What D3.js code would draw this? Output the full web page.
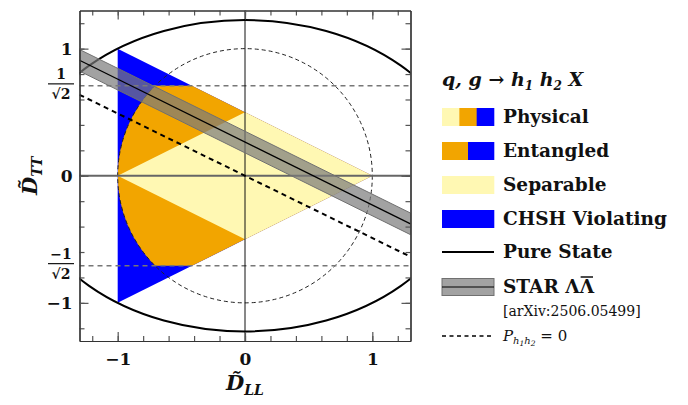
<!DOCTYPE html>
<html>
<head>
<meta charset="utf-8">
<script src="https://cdnjs.cloudflare.com/ajax/libs/d3/7.8.5/d3.min.js"></script>
<style>
  body { margin: 0; background: #fff; }
  text { font-family: "DejaVu Serif", serif; }
</style>
</head>
<body>
<script>
// region vertices in (D_LL, D_TT)
var physicalTriangle = [[-1, 1], [-1, -1], [1, 0]];
var separableRegion = [[-1, 0], [0, 0.5], [1, 0], [0, -0.5]];
var chshRadius = 1;
var chshBound = 1 / Math.SQRT2;
var pureStateAxes = [Math.sqrt(3), Math.sqrt(1.5)];
// STAR band: lines D_TT = intercept + slope * D_LL
var starSlope = -0.495;
var starIntercepts = [0.18, 0.265, 0.35];
var pZeroLine = [[-1.3, 0.637], [1.3, -0.637]];
var minorTicks = d3.range(-12, 13, 2).map(d => d / 10);
var majorTicks = [-1, 0, 1];

var colours = { yellow: '#fff8b3', orange: '#f2a500', blue: '#0000ff' };

var svg = d3.select("body").append("svg")
    .attr("width", 688)
    .attr("height", 405);

var x = d3.scaleLinear().domain([-1.3, 1.3]).range([79.5, 410.5]);
var y = d3.scaleLinear().domain([-1.3, 1.3]).range([341, 10.5]);

var defs = svg.append('defs');
defs.append('clipPath').attr('id', 'plotClip')
    .append('rect')
    .attr('x', x(-1.3)).attr('y', y(1.3))
    .attr('width', x(1.3) - x(-1.3)).attr('height', y(-1.3) - y(1.3));
defs.append('clipPath').attr('id', 'circClip')
    .append('ellipse')
    .attr('cx', x(0)).attr('cy', y(0))
    .attr('rx', x(chshRadius) - x(0)).attr('ry', y(0) - y(chshRadius));
defs.append('clipPath').attr('id', 'bandClip')
    .append('rect')
    .attr('x', x(-1.3)).attr('y', y(chshBound))
    .attr('width', x(1.3) - x(-1.3)).attr('height', y(-chshBound) - y(chshBound));

var line = d3.line().x(d => x(d[0])).y(d => y(d[1]));

var plot = svg.append('g').attr('clip-path', 'url(#plotClip)');

// CHSH violating (whole physical triangle in blue underneath)
plot.append('path')
    .attr('d', line(physicalTriangle) + 'Z')
    .attr('fill', colours.blue);

// entangled, not violating
plot.append('g').attr('clip-path', 'url(#circClip)')
    .append('path')
    .attr('clip-path', 'url(#bandClip)')
    .attr('d', line(physicalTriangle) + 'Z')
    .attr('fill', colours.orange);

// separable
plot.append('path')
    .attr('d', line(separableRegion) + 'Z')
    .attr('fill', colours.yellow);

// dashed unit circle
plot.append('ellipse')
    .attr('cx', x(0)).attr('cy', y(0))
    .attr('rx', x(chshRadius) - x(0)).attr('ry', y(0) - y(chshRadius))
    .attr('fill', 'none')
    .attr('stroke', '#222')
    .attr('stroke-width', 1)
    .attr('stroke-dasharray', '4,3');

// 1/sqrt2 lines
plot.selectAll('line.bound')
    .data([chshBound, -chshBound])
    .enter()
    .append('line')
    .attr('class', 'bound')
    .attr('x1', x(-1.3)).attr('x2', x(1.3))
    .attr('y1', d => y(d)).attr('y2', d => y(d))
    .attr('stroke', '#777')
    .attr('stroke-width', 1.5)
    .attr('stroke-dasharray', '5,4');

// zero lines
plot.append('line')
    .attr('x1', x(-1.3)).attr('x2', x(1.3))
    .attr('y1', y(0)).attr('y2', y(0))
    .attr('stroke', '#666').attr('stroke-width', 2);
plot.append('line')
    .attr('x1', x(0)).attr('x2', x(0))
    .attr('y1', y(-1.3)).attr('y2', y(1.3))
    .attr('stroke', '#111').attr('stroke-width', 1);

// pure state ellipse
plot.append('ellipse')
    .attr('cx', x(0)).attr('cy', y(0))
    .attr('rx', x(pureStateAxes[0]) - x(0)).attr('ry', y(0) - y(pureStateAxes[1]))
    .attr('fill', 'none')
    .attr('stroke', '#000')
    .attr('stroke-width', 2);

// P = 0
plot.append('path')
    .attr('d', line(pZeroLine))
    .attr('stroke', '#000')
    .attr('stroke-width', 2)
    .attr('stroke-dasharray', '5,4')
    .attr('fill', 'none');

// STAR band
var starPoint = (b, xv) => [xv, b + starSlope * xv];
var band = [starPoint(starIntercepts[2], -1.3), starPoint(starIntercepts[2], 1.3),
            starPoint(starIntercepts[0], 1.3), starPoint(starIntercepts[0], -1.3)];
plot.append('path')
    .attr('d', line(band) + 'Z')
    .attr('fill', '#7a7a7a')
    .attr('fill-opacity', 0.7)
    .attr('stroke', '#707070')
    .attr('stroke-width', 1);
plot.append('path')
    .attr('d', line([starPoint(starIntercepts[1], -1.3), starPoint(starIntercepts[1], 1.3)]))
    .attr('stroke', '#000')
    .attr('stroke-width', 1.2);

// axes (ticks inward)
function styleAxis(g) {
    g.select('.domain').attr('stroke', '#333').attr('stroke-width', 1.2);
    g.selectAll('.tick line').attr('stroke', '#555').attr('stroke-width', 1.2);
    g.selectAll('text')
        .attr('font-family', '"DejaVu Serif", serif')
        .attr('font-weight', 'bold')
        .attr('font-size', 17)
        .attr('fill', '#111');
}

var axes = [
    [d3.axisBottom(x), 'translate(0,' + y(-1.3) + ')'],
    [d3.axisTop(x), 'translate(0,' + y(1.3) + ')'],
    [d3.axisLeft(y), 'translate(' + x(-1.3) + ',0)'],
    [d3.axisRight(y), 'translate(' + x(1.3) + ',0)']
];
axes.forEach(a => {
    svg.append('g').attr('transform', a[1])
        .call(a[0].tickValues(minorTicks).tickSize(-5).tickSizeOuter(0).tickFormat(''))
        .call(styleAxis);
});

var fmt = d3.format('d');
svg.append('g').attr('transform', 'translate(0,' + y(-1.3) + ')')
    .call(d3.axisBottom(x).tickValues(majorTicks).tickSize(-9).tickSizeOuter(0).tickPadding(12).tickFormat(fmt))
    .call(styleAxis);
svg.append('g').attr('transform', 'translate(0,' + y(1.3) + ')')
    .call(d3.axisTop(x).tickValues(majorTicks).tickSize(-9).tickSizeOuter(0).tickFormat(''))
    .call(styleAxis);
svg.append('g').attr('transform', 'translate(' + x(-1.3) + ',0)')
    .call(d3.axisLeft(y).tickValues(majorTicks).tickSize(-9).tickSizeOuter(0).tickPadding(7).tickFormat(fmt))
    .call(styleAxis);
svg.append('g').attr('transform', 'translate(' + x(1.3) + ',0)')
    .call(d3.axisRight(y).tickValues(majorTicks).tickSize(-9).tickSizeOuter(0).tickFormat(''))
    .call(styleAxis);

// fraction labels 1/sqrt2
[chshBound, -chshBound].forEach(v => {
    var g = svg.append('g')
        .attr('transform', 'translate(61,' + (y(v) - 2) + ')')
        .attr('font-weight', 'bold')
        .attr('fill', '#111');
    g.append('text').attr('y', -5).attr('text-anchor', 'middle')
        .attr('font-size', 14).text(v < 0 ? '\u22121' : '1');
    g.append('line').attr('x1', -13).attr('x2', 13)
        .attr('stroke', '#111').attr('stroke-width', 1.2);
    g.append('text').attr('y', 15).attr('text-anchor', 'middle')
        .attr('font-size', 14).text('\u221a2');
});

// axis titles
var xTitle = svg.append('text')
    .attr('x', x(0)).attr('y', 390)
    .attr('text-anchor', 'middle')
    .attr('font-weight', 'bold')
    .attr('font-style', 'italic')
    .attr('font-size', 21)
    .attr('fill', '#111');
xTitle.append('tspan').text('D\u0303');
xTitle.append('tspan').attr('font-size', 14).attr('dy', 5).text('LL');

var yTitle = svg.append('text')
    .attr('transform', 'translate(37,' + y(0) + ') rotate(-90)')
    .attr('text-anchor', 'middle')
    .attr('font-weight', 'bold')
    .attr('font-style', 'italic')
    .attr('font-size', 21)
    .attr('fill', '#111');
yTitle.append('tspan').text('D\u0303');
yTitle.append('tspan').attr('font-size', 14).attr('dy', 5).text('TT');

// legend
var legend = svg.append('g').attr('fill', '#111');
var lx = 442, tx = 503;

var title = legend.append('text')
    .attr('x', lx).attr('y', 86)
    .attr('font-size', 19)
    .attr('font-weight', 'bold')
    .attr('font-style', 'italic');
title.append('tspan').text('q, g ');
title.append('tspan').attr('font-style', 'normal').text('\u2192 ');
title.append('tspan').text('h');
title.append('tspan').attr('font-size', 12).attr('dy', 4).text('1');
title.append('tspan').attr('dy', -4).text(' h');
title.append('tspan').attr('font-size', 12).attr('dy', 4).text('2');
title.append('tspan').attr('dy', -4).text(' X');

var swatchRows = [
    { label: 'Physical', cy: 117, parts: [colours.yellow, colours.orange, colours.blue] },
    { label: 'Entangled', cy: 151, parts: [colours.orange, colours.blue] },
    { label: 'Separable', cy: 185, parts: [colours.yellow] },
    { label: 'CHSH Violating', cy: 219, parts: [colours.blue] }
];
swatchRows.forEach(r => {
    var w = 52 / r.parts.length;
    r.parts.forEach((c, i) => {
        legend.append('rect')
            .attr('x', lx + i * w).attr('y', r.cy - 9)
            .attr('width', w + 0.3).attr('height', 18)
            .attr('fill', c);
    });
    legend.append('text')
        .attr('x', tx).attr('y', r.cy + 6)
        .attr('font-size', 18.5).attr('font-weight', 'bold')
        .text(r.label);
});

// pure state
legend.append('line')
    .attr('x1', lx).attr('x2', lx + 52).attr('y1', 252).attr('y2', 252)
    .attr('stroke', '#000').attr('stroke-width', 2);
legend.append('text').attr('x', tx).attr('y', 258)
    .attr('font-size', 18.5).attr('font-weight', 'bold').text('Pure State');

// STAR
legend.append('rect')
    .attr('x', lx).attr('y', 278.5).attr('width', 52).attr('height', 17)
    .attr('fill', '#7a7a7a').attr('fill-opacity', 0.7)
    .attr('stroke', '#707070').attr('stroke-width', 1);
legend.append('line')
    .attr('x1', lx).attr('x2', lx + 52).attr('y1', 287).attr('y2', 287)
    .attr('stroke', '#000').attr('stroke-width', 1.2);
var starText = legend.append('text').attr('x', tx).attr('y', 293)
    .attr('font-size', 18.5).attr('font-weight', 'bold').text('STAR \u039b\u039b');
var lastChar = starText.node().getExtentOfChar(6);
legend.append('line')
    .attr('x1', lastChar.x + 1).attr('x2', lastChar.x + lastChar.width - 1)
    .attr('y1', lastChar.y + 1).attr('y2', lastChar.y + 1)
    .attr('stroke', '#111').attr('stroke-width', 1.5);
legend.append('text').attr('x', tx).attr('y', 316)
    .attr('font-size', 14).text('[arXiv:2506.05499]');

// P = 0
legend.append('line')
    .attr('x1', lx).attr('x2', lx + 52).attr('y1', 336).attr('y2', 336)
    .attr('stroke', '#000').attr('stroke-width', 1.5)
    .attr('stroke-dasharray', '4,3.5');
var pText = legend.append('text').attr('x', tx).attr('y', 341)
    .attr('font-size', 15).attr('font-style', 'italic');
pText.append('tspan').text('P');
pText.append('tspan').attr('font-size', 10).attr('dy', 3).text('h');
pText.append('tspan').attr('font-size', 7.5).attr('dy', 2).text('1');
pText.append('tspan').attr('font-size', 10).attr('dy', -2).text('h');
pText.append('tspan').attr('font-size', 7.5).attr('dy', 2).text('2');
pText.append('tspan').attr('font-style', 'normal').attr('dy', -5).text(' = 0');
</script>
</body>
</html>
